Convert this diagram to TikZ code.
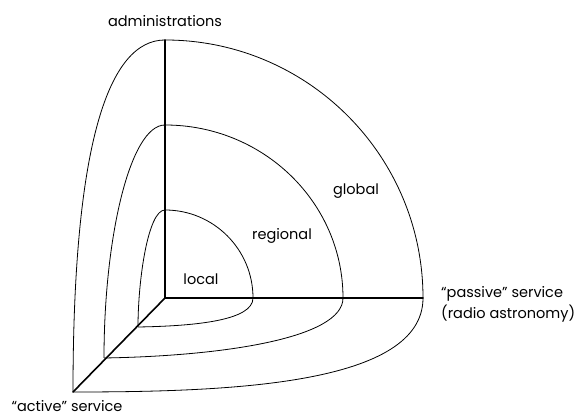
\documentclass[tikz,border=0pt]{standalone}
\usepackage{fontspec}
\setmainfont{Poppins}
\usepackage{tkz-euclide}
\usetikzlibrary{positioning}

\tikzset{
  axisline/.style={line width=1.6pt},
  shellline/.style={line width=0.8pt},
  lbl/.style={font=\fontsize{14.5}{21}\selectfont, inner sep=0pt},
}

\begin{document}
\begin{tikzpicture}[x=1pt,y=1pt]
  \useasboundingbox (0,0) rectangle (580,419);

  \tkzDefPoint(165,121){O}
  % outer shell
  \tkzDefShiftPoint[O](0,258){TA}
  \tkzDefShiftPoint[O](258,0){RA}
  \tkzDefShiftPoint[O](-92,-94){DA}
  % middle shell
  \tkzDefShiftPoint[O](0,173){TB}
  \tkzDefShiftPoint[O](178,0){RB}
  \tkzDefShiftPoint[O](-61,-60){DB}
  % inner shell
  \tkzDefShiftPoint[O](0,88){TC}
  \tkzDefShiftPoint[O](88,0){RC}
  \tkzDefShiftPoint[O](-27,-29){DC}

  \tkzDrawSegments[axisline](O,TA O,RA O,DA)

  \draw[shellline] (TA) arc[start angle=90, end angle=0, x radius=258, y radius=258];
  \draw[shellline] (TA) .. controls +(-56,0) and +(0,250) .. (DA);
  \draw[shellline] (DA) .. controls +(157,0) and +(0,-87) .. (RA);

  \draw[shellline] (TB) arc[start angle=90, end angle=0, x radius=178, y radius=173];
  \draw[shellline] (TB) .. controls +(-35,0) and +(0,120) .. (DB);
  \draw[shellline] (DB) .. controls +(120,2) and +(0,-40) .. (RB);

  \draw[shellline] (TC) arc[start angle=90, end angle=0, x radius=88, y radius=88];
  \draw[shellline] (TC) .. controls +(-17,0) and +(0,47) .. (DC);
  \draw[shellline] (DC) .. controls +(60,1) and +(0,-22) .. (RC);

  \node[lbl, above=13pt of TA] (admin) {administrations};
  \node[lbl, below=8pt of DA, xshift=-6pt] (active) {“active” service};
  \node[lbl, right=18pt of RA, yshift=-6pt, align=left] (passive) {“passive” service\\(radio astronomy)};
  \node[lbl, anchor=base] (glob) at (356,224) {global};
  \node[lbl, anchor=base] (regio) at (282,179) {regional};
  \node[lbl, anchor=base] (loc) at (201,134) {local};

\end{tikzpicture}
\end{document}
